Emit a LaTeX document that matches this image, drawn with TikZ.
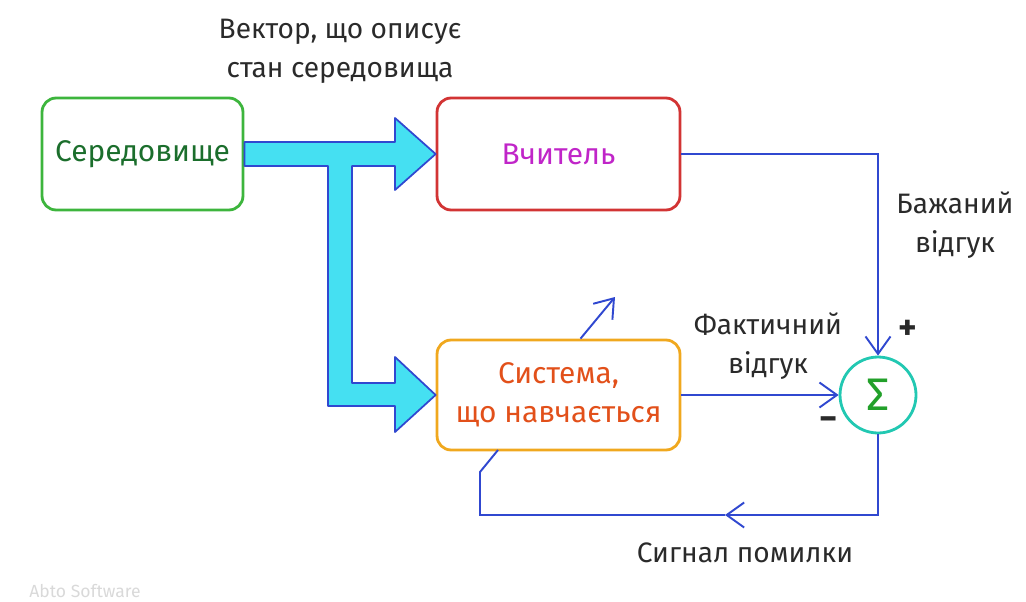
\documentclass[tikz,border=0pt]{standalone}
\usepackage{fontspec}
\setmainfont{Fira Sans}
\usepackage{xcolor}
\usepackage{tikz}
\usetikzlibrary{calc}
\usetikzlibrary{arrows.meta,positioning}

\definecolor{envgreen}{HTML}{3DB53D}
\definecolor{envtext}{HTML}{1B6E2C}
\definecolor{teachred}{HTML}{D23434}
\definecolor{teachpink}{HTML}{C025C8}
\definecolor{sysorange}{HTML}{F0A81E}
\definecolor{systext}{HTML}{E2501A}
\definecolor{sumteal}{HTML}{22C8B2}
\definecolor{sumgreen}{HTML}{22A02A}
\definecolor{wireblue}{HTML}{3048D0}
\definecolor{bandcyan}{HTML}{45E0F2}
\definecolor{inkgray}{HTML}{2A2A2A}

\tikzset{
  block/.style={draw, rounded corners=8pt, line width=1.6pt, minimum height=2.24cm,
    align=center, font=\fontsize{17}{22}\selectfont},
  wire/.style={draw=wireblue, line width=1.1pt},
  tip/.style={-{Straight Barb[length=3.5mm,width=5mm]}},
  lbl/.style={font=\fontsize{16}{22}\selectfont, align=center, text=inkgray}
}

\begin{document}
\begin{tikzpicture}[x=0.02cm,y=-0.02cm]
\useasboundingbox (0,0) rectangle (1026,601);

% Blocks
\node[block, draw=envgreen, text=envtext, minimum width=4.02cm] (env) at (142.5,154) {Середовище};
\node[block, draw=teachred, text=teachpink, minimum width=4.86cm] (teacher) at (558.5,154) {Вчитель};
\node[block, draw=sysorange, text=systext, minimum width=4.86cm, minimum height=2.2cm] (learner) at (558.5,395) {Система,\\що навчається};
\node[circle, draw=sumteal, line width=1.6pt, minimum size=1.52cm, inner sep=0pt,
  text=sumgreen, font=\fontsize{26}{26}\selectfont] (sum) at (878,395) {Σ};

% Wide state arrow
\draw[draw=wireblue, fill=bandcyan, line width=1pt, line join=round]
  (env.east |- 0,142) -- (395,142) -- (395,118) -- (teacher.west) -- (395,190) -- (395,166)
  -- (352,166) -- (352,383) -- (395,383) -- (395,357) -- (learner.west) -- (395,432)
  -- (395,406) -- (328,406) -- (328,166) -- (env.east |- 0,166) -- cycle;

% Signals
\coordinate (fbmid) at (725,515);
\coordinate (fbcorner) at (480,515);
\coordinate (fbknee) at (480,472);
\coordinate (fbend) at (498,450);
\coordinate (adapt) at (615,297);
\draw[wire, tip] (teacher.east) -| (sum.north);
\draw[wire, tip] (learner.east) -- (sum.west);
\draw[wire, tip] (sum.south) |- (fbmid);
\draw[wire] (fbmid) -- (fbcorner) -- (fbknee) -- (fbend);
\draw[wire, tip] ($(learner.north)+(22,0)$) -- (adapt);

% Labels
\node[lbl] (stateLbl) at (340,51) {Вектор, що описує\\стан середовища};
\node[lbl] (wantLbl) at (955,225) {Бажаний\\відгук};
\node[lbl] (factLbl) at (768,346) {Фактичний\\відгук};
\node[lbl] (errLbl) at (745,553) {Сигнал помилки};
\node[lbl, font=\fontsize{20}{20}\selectfont\bfseries] (plusLbl) at (908,330) {+};
\node[lbl, font=\fontsize{20}{20}\selectfont\bfseries] (minusLbl) at (829,424) {−};
\node[text=gray!30, font=\fontsize{10}{12}\selectfont] (brand) at (85,591) {Abto Software};
\end{tikzpicture}
\end{document}
